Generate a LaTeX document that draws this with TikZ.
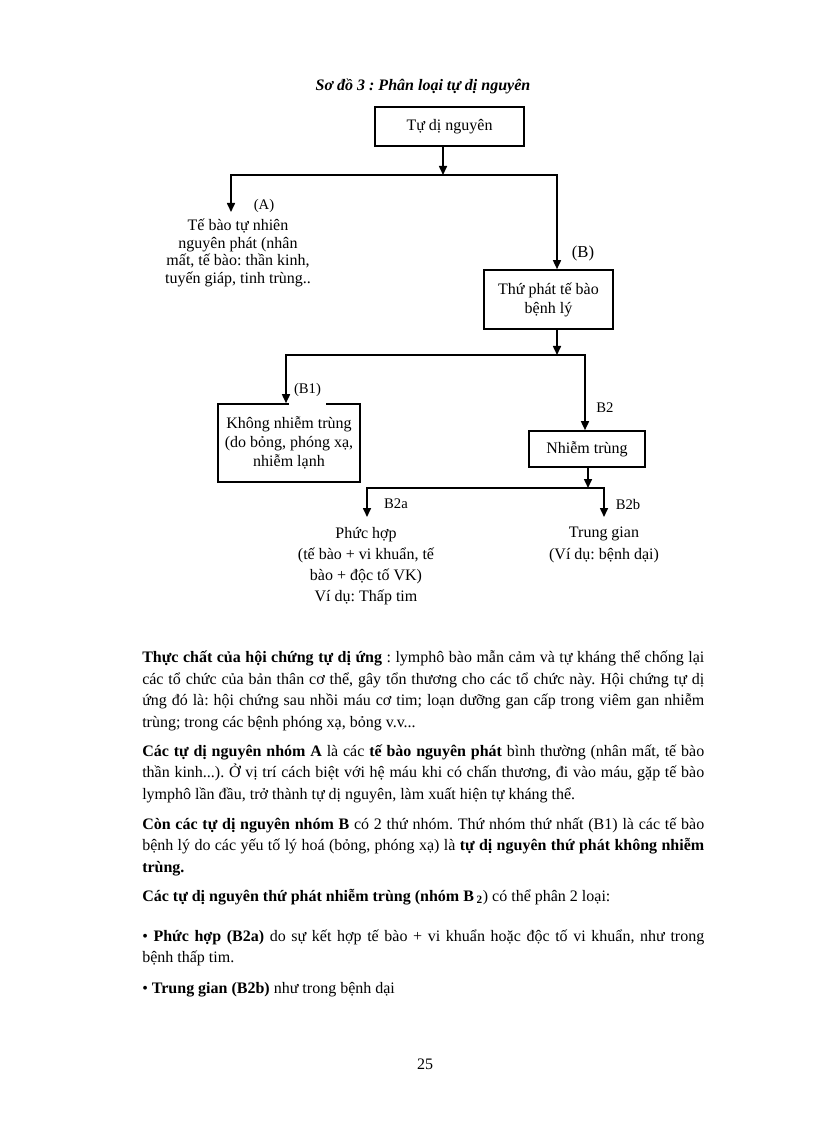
\documentclass[tikz,border=0pt]{standalone}
\usepackage{fontspec}
\setmainfont{Liberation Serif}
\usetikzlibrary{arrows.meta}
\frenchspacing
\newcommand\jline[1]{\makebox[421.5bp][s]{#1}}
\begin{document}
\begin{tikzpicture}[x=0.75bp,y=-0.75bp,
  every node/.style={inner sep=0pt},
  box/.style={draw,line width=1.2bp,align=center,font=\fontsize{12bp}{14.25bp}\selectfont},
  txt/.style={align=center,font=\fontsize{12bp}{14.25bp}\selectfont},
  lab/.style={font=\fontsize{11bp}{13bp}\selectfont},
  body/.style={anchor=base west,font=\fontsize{12bp}{16bp}\selectfont},
  arr/.style={line width=1.2bp,-{Triangle[length=6.75bp,width=6bp]}}
]
\useasboundingbox (0,0) rectangle (816,1123);

% title
\node[font={\fontsize{12bp}{14bp}\selectfont\bfseries\itshape}] (title) at (423,86) {Sơ đồ 3 : Phân loại tự dị nguyên};

% level 0
\node[box,minimum width=149*0.75bp,minimum height=39*0.75bp] (root) at (449.5,126.5) {Tự dị nguyên};

% level 1
\node[lab] (labA) at (264,206) {(A)};
\node[txt,font=\fontsize{12bp}{13.3bp}\selectfont] (A) at (238,253) {Tế bào tự nhiên\\nguyên phát (nhân\\mất, tế bào: thần kinh,\\tuyến giáp, tinh trùng..};
\node[font=\fontsize{12.5bp}{14bp}\selectfont] (labB) at (583,253) {(B)};
\node[box,minimum width=129*0.75bp,minimum height=59*0.75bp] (tp) at (548.5,299.5) {Thứ phát tế bào\\bệnh lý};

\coordinate (m1) at (443,175);
\coordinate (l1) at (231,175);
\coordinate (r1) at (557,175);
\coordinate (aTip) at (231,212);
\draw[arr] (root.south -| m1) -- (m1);
\draw[arr] (m1) -- (l1) -- (aTip);
\draw[arr] (m1) -- (r1) -- (tp.north -| r1);

% level 2
\node[box,minimum width=142*0.75bp,minimum height=78*0.75bp] (b1) at (289,443) {Không nhiễm trùng\\(do bỏng, phóng xạ,\\nhiễm lạnh};
\node[lab,fill=white,anchor=base,text depth=9.5bp,inner xsep=3.5bp] (labB1) at (307.5,393) {(B1)};
\node[lab] (labB2) at (605,408) {B2};
\node[box,minimum width=116*0.75bp,minimum height=36*0.75bp] (nt) at (587,449) {Nhiễm trùng};

\coordinate (m2) at (557,355);
\coordinate (l2) at (286,355);
\coordinate (r2) at (585,355);
\draw[arr] (tp.south -| m2) -- (m2);
\draw[arr] (m2) -- (l2) -- (b1.north -| l2);
\draw[arr] (m2) -- (r2) -- (nt.north -| r2);

% level 3
\coordinate (m3) at (588,488);
\coordinate (l3) at (367,488);
\coordinate (r3) at (604,488);
\coordinate (t3a) at (367,517);
\coordinate (t3b) at (604,517);
\draw[arr] (nt.south -| m3) -- (m3);
\draw[arr] (m3) -- (l3) -- (t3a);
\draw[arr] (m3) -- (r3) -- (t3b);
\node[lab] (labB2a) at (396,504) {B2a};
\node[lab] (labB2b) at (628,504) {B2b};
\node[txt,font=\fontsize{12bp}{15.75bp}\selectfont] (ph) at (366,566) {Phức hợp\\(tế bào + vi khuẩn, tế\\bào + độc tố VK)\\Ví dụ: Thấp tim};
\node[txt,font=\fontsize{12bp}{17bp}\selectfont] (tg) at (604,545) {Trung gian\\(Ví dụ: bệnh dại)};

% body text
\node[body] (p1a) at (142,662) {\jline{\textbf{Thực chất của hội chứng tự dị ứng} : lymphô bào mẫn cảm và tự kháng thể chống lại}};
\node[body] (p1b) at (142,684) {\jline{các tổ chức của bản thân cơ thể, gây tổn thương cho các tổ chức này. Hội chứng tự dị}};
\node[body] (p1c) at (142,705) {\jline{ứng đó là: hội chứng sau nhồi máu cơ tim; loạn dưỡng gan cấp trong viêm gan nhiễm}};
\node[body] (p1d) at (142,727) {trùng; trong các bệnh phóng xạ, bỏng v.v...};

\node[body] (p2a) at (142,756) {\jline{\textbf{Các tự dị nguyên nhóm A} là các \textbf{tế bào nguyên phát} bình thường (nhân mất, tế bào}};
\node[body] (p2b) at (142,777) {\jline{thần kinh...). Ở vị trí cách biệt với hệ máu khi có chấn thương, đi vào máu, gặp tế bào}};
\node[body] (p2c) at (142,799) {lymphô lần đầu, trở thành tự dị nguyên, làm xuất hiện tự kháng thể.};

\node[body] (p3a) at (142,829) {\jline{\textbf{Còn các tự dị nguyên nhóm B} có 2 thứ nhóm. Thứ nhóm thứ nhất (B1) là các tế bào}};
\node[body] (p3b) at (142,850) {\jline{bệnh lý do các yếu tố lý hoá (bỏng, phóng xạ) là \textbf{tự dị nguyên thứ phát không nhiễm}}};
\node[body] (p3c) at (142,872) {\textbf{trùng.}};

\node[body] (p4) at (142,901) {\textbf{Các tự dị nguyên thứ phát nhiễm trùng (nhóm B\,\textsubscript{2}}) có thể phân 2 loại:};

\node[body] (p5a) at (142,941) {\jline{• \textbf{Phức hợp (B2a)} do sự kết hợp tế bào + vi khuẩn hoặc độc tố vi khuẩn, như trong}};
\node[body] (p5b) at (142,962) {bệnh thấp tim.};

\node[body] (p6) at (142,993) {• \textbf{Trung gian (B2b)} như trong bệnh dại};

\node[font=\fontsize{12bp}{14bp}\selectfont] (pg) at (425,1064) {25};
\end{tikzpicture}
\end{document}
